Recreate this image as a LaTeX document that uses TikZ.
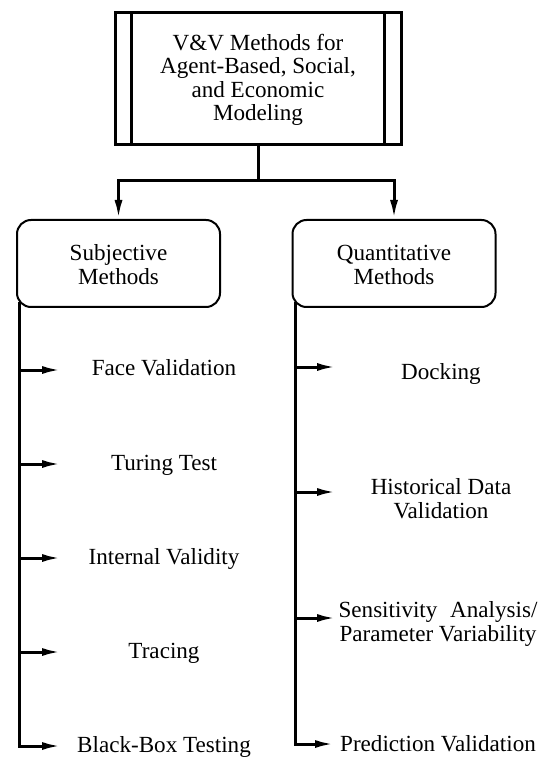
\documentclass[tikz,border=0pt]{standalone}
\usepackage{fontspec}
\setmainfont{Liberation Serif}
\usetikzlibrary{arrows.meta}

\begin{document}
\begin{tikzpicture}[x=0.5pt, y=-0.5pt,
    font=\fontsize{11.55}{11.75}\selectfont,
    mainbox/.style={draw, line width=1.5pt, minimum width=143pt, minimum height=66pt},
    groupbox/.style={draw, line width=1pt, rounded corners=7pt, minimum width=101.5pt, minimum height=43.5pt},
    item/.style={anchor=base, align=center, inner sep=0pt},
    link/.style={line width=1.5pt},
    tip/.style={line width=1.5pt, -{Latex[length=9.5pt,width=4pt]}}]
    \useasboundingbox (0,0) rectangle (540,758);

    % Top box with the two side bars
    \node[mainbox] (vv) at (258,79) {};
    \node[item] (vvtext) at (258,121) {V\&V Methods for\\Agent-Based, Social,\\and Economic\\Modeling};
    \draw[line width=1.2pt] ([xshift=9pt]vv.north west) -- ([xshift=9pt]vv.south west);
    \draw[line width=1.2pt] ([xshift=-9pt]vv.north east) -- ([xshift=-9pt]vv.south east);

    % The two groups
    \node[groupbox] (subj) at (118.5,263.5) {};
    \node[item] (subjtext) at (118.5,284.5) {Subjective\\Methods};
    \node[groupbox] (quant) at (394,263.5) {};
    \node[item] (quanttext) at (394,284.5) {Quantitative\\Methods};

    % Split below the top box
    \coordinate (split) at (258,181);
    \draw[link] (vv.south) -- (split);
    \draw[tip] (split) -| (subj.north);
    \draw[tip] (split) -| (quant.north);

    % Subjective methods
    \node[item] (face) at (164,375) {Face Validation};
    \node[item] (turing) at (164,470) {Turing Test};
    \node[item] (internal) at (164,564) {Internal Validity};
    \node[item] (tracing) at (164,658) {Tracing};
    \node[item] (blackbox) at (164,752) {Black-Box Testing};

    \coordinate (face-in) at (61,370);
    \coordinate (turing-in) at (61,464);
    \coordinate (internal-in) at (61,558);
    \coordinate (tracing-in) at (61,652);
    \coordinate (blackbox-in) at (61,746);
    \coordinate (lspine) at ([xshift=1.75pt,yshift=3pt]subj.south west);

    \draw[tip] (lspine) |- (blackbox-in);
    \draw[tip] (lspine |- face-in) -- (face-in);
    \draw[tip] (lspine |- turing-in) -- (turing-in);
    \draw[tip] (lspine |- internal-in) -- (internal-in);
    \draw[tip] (lspine |- tracing-in) -- (tracing-in);

    % Quantitative methods
    \node[item] (docking) at (441,379) {Docking};
    \node[item] (historical) at (441,518) {Historical Data\\Validation};
    \node[item] (sensitivity) at (438,641) {Sensitivity\hspace{0.55em}Analysis/\\Parameter Variability};
    \node[item] (prediction) at (438,751) {Prediction Validation};

    \coordinate (docking-in) at (336,367);
    \coordinate (historical-in) at (336,492);
    \coordinate (sensitivity-in) at (336,618);
    \coordinate (prediction-in) at (334,744);
    \coordinate (rspine) at ([xshift=1.75pt,yshift=3pt]quant.south west);

    \draw[tip] (rspine) |- (prediction-in);
    \draw[tip] (rspine |- docking-in) -- (docking-in);
    \draw[tip] (rspine |- historical-in) -- (historical-in);
    \draw[tip] (rspine |- sensitivity-in) -- (sensitivity-in);

\end{tikzpicture}
\end{document}
